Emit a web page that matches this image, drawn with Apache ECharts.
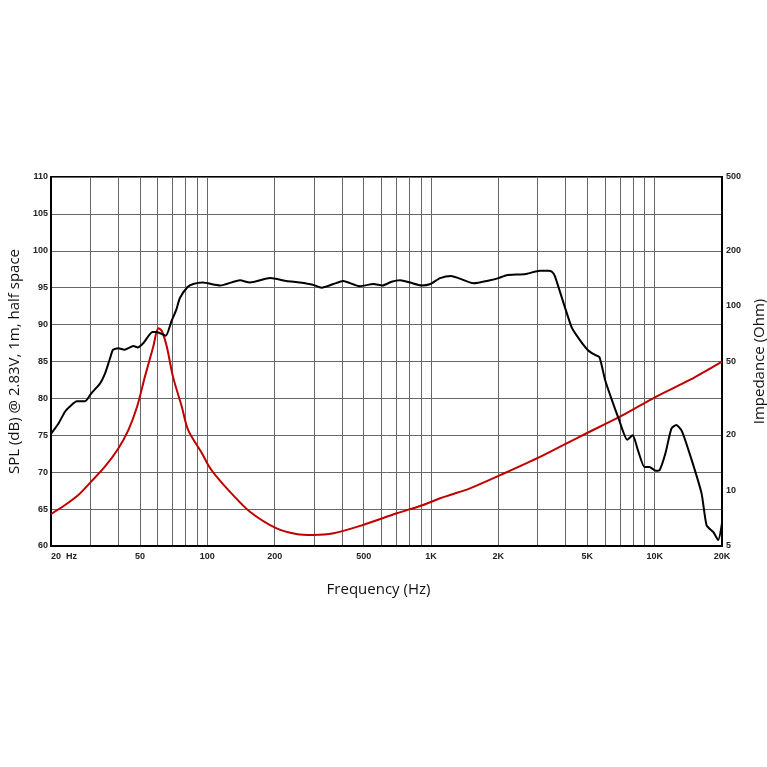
<!DOCTYPE html>
<html>
<head>
<meta charset="utf-8">
<script src="https://cdn.jsdelivr.net/npm/echarts@6/dist/echarts.min.js"></script>
<style>
html,body{margin:0;padding:0;background:#fff;}
#chart{width:767px;height:767px;}
</style>
</head>
<body>
<div id="chart"></div>
<script>
// SPL response (dB) vs frequency (Hz)
var splFreq = [20, 21.6, 23.1, 24.3, 26.1, 28.4, 30.3, 33.1, 34.9, 36.7, 37.9, 40, 42.6, 46.7, 48.9, 51.8, 56.8, 59.3, 65.2, 69, 72.6, 75.4, 81.6, 86.5, 95, 114, 140, 155, 191, 226, 259, 296, 324, 367, 405, 480, 553, 607, 666, 728, 806, 908, 993, 1098, 1230, 1326, 1548, 1836, 2003, 2178, 2506, 2688, 3073, 3344, 3460, 3577, 4246, 4632, 5047, 5413, 5664, 6003, 6434, 6896, 7544, 7977, 8412, 9006, 9474, 10120, 10533, 11180, 11880, 12490, 13216, 14620, 16210, 17070, 18270, 19230, 20000];
var splDb = [75.2, 76.6, 78.2, 78.9, 79.6, 79.6, 80.7, 82.0, 83.4, 85.4, 86.6, 86.8, 86.6, 87.1, 86.9, 87.5, 89.0, 89.0, 88.5, 90.4, 92.0, 93.6, 95.1, 95.5, 95.7, 95.3, 96.0, 95.7, 96.3, 95.9, 95.7, 95.4, 95.0, 95.5, 95.9, 95.2, 95.5, 95.3, 95.8, 96.0, 95.7, 95.3, 95.5, 96.3, 96.6, 96.3, 95.6, 96.0, 96.3, 96.7, 96.8, 96.9, 97.3, 97.3, 97.2, 96.6, 89.7, 87.9, 86.5, 85.9, 85.6, 82.5, 79.8, 77.3, 74.4, 75.0, 73.0, 70.7, 70.7, 70.2, 70.3, 72.6, 75.9, 76.4, 75.6, 71.7, 67.1, 62.8, 61.9, 60.8, 63.1];

// Impedance (Ohm) vs frequency (Hz)
var impFreq = [20, 23.1, 26.5, 30.3, 34.9, 40, 44.4, 48.5, 52.6, 57.3, 60.4, 62.5, 65.9, 70.2, 76.9, 82, 94.6, 101, 108.6, 126, 155, 204, 250, 296, 367, 497, 704, 922, 1098, 1217, 1494, 2036, 3073, 4632, 6992, 10120, 14350, 20000];
var impOhm = [7.45, 8.34, 9.45, 11.2, 13.5, 16.9, 21.3, 28.4, 41.4, 60.1, 75.7, 73.4, 60.1, 41.4, 28.4, 21.3, 15.9, 13.7, 12.1, 9.85, 7.67, 6.23, 5.81, 5.74, 5.86, 6.5, 7.52, 8.34, 9.07, 9.45, 10.27, 12.1, 15.2, 19.6, 25.1, 32.2, 39.7, 49.9];

// Axis ticks / labels
var freqGrid = [20,30,40,50,60,70,80,90,100,200,300,400,500,600,700,800,900,1000,2000,3000,4000,5000,6000,7000,8000,9000,10000,20000];
var freqLabels = [20,50,100,200,500,1000,2000,5000,10000,20000];
var freqLabelText = {20:'20  Hz',50:'50',100:'100',200:'200',500:'500',1000:'1K',2000:'2K',5000:'5K',10000:'10K',20000:'20K'};
var impLabels = [5,10,20,50,100,200,500];

function pairs(xs, ys){ return xs.map(function(x,i){ return [x, ys[i]]; }); }

var labelFont = {fontFamily:'Liberation Sans, Arial, sans-serif', fontSize:9, fontWeight:'bold', color:'#222'};
var nameFont = {fontFamily:'Open Sans, sans-serif', fontSize:15, color:'#111'};

var chart = echarts.init(document.getElementById('chart'));
chart.setOption({
  animation:false,
  backgroundColor:'#fff',
  grid:{left:51, right:45, top:177, bottom:221, containLabel:false, outerBoundsMode:'none', show:true, borderColor:'#000', borderWidth:2, backgroundColor:'transparent'},
  xAxis:{
    type:'log', logBase:10, min:20, max:20000,
    name:'Frequency (Hz)', nameLocation:'middle', nameGap:36,
    nameTextStyle:Object.assign({padding:[0,16,0,0]}, nameFont),
    axisLine:{show:true, lineStyle:{color:'#000', width:2}},
    axisTick:{show:false, customValues:freqGrid},
    axisLabel:Object.assign({customValues:freqLabels, margin:6, alignMinLabel:'left', formatter:function(v){ return freqLabelText[Math.round(v)] || ''; }}, labelFont),
    splitLine:{show:true, lineStyle:{color:'#666', width:1}},
    minorSplitLine:{show:false}
  },
  yAxis:[{
    type:'value', min:60, max:110, interval:5, position:'left',
    name:'SPL (dB) @ 2.83V, 1m, half space', nameLocation:'middle', nameGap:28, nameTextStyle:nameFont,
    axisLine:{show:true, lineStyle:{color:'#000', width:2}},
    axisTick:{show:false},
    axisLabel:Object.assign({margin:3}, labelFont),
    splitLine:{show:true, lineStyle:{color:'#666', width:1}}
  },{
    type:'log', logBase:10, min:5, max:500, position:'right',
    name:'Impedance (Ohm)', nameLocation:'middle', nameGap:23, nameTextStyle:nameFont,
    axisLine:{show:true, lineStyle:{color:'#000', width:2}},
    axisTick:{show:false, customValues:impLabels},
    axisLabel:Object.assign({customValues:impLabels, margin:4, formatter:function(v){ return String(Math.round(v)); }}, labelFont),
    splitLine:{show:false}
  }],
  series:[{
    type:'line', name:'SPL', yAxisIndex:0, data:pairs(splFreq, splDb),
    showSymbol:false, smooth:0.2, lineStyle:{color:'#000', width:2}, z:3
  },{
    type:'line', name:'Impedance', yAxisIndex:1, data:pairs(impFreq, impOhm),
    showSymbol:false, smooth:0.3, lineStyle:{color:'#c00000', width:2}, z:2
  }]
});
</script>
</body>
</html>
